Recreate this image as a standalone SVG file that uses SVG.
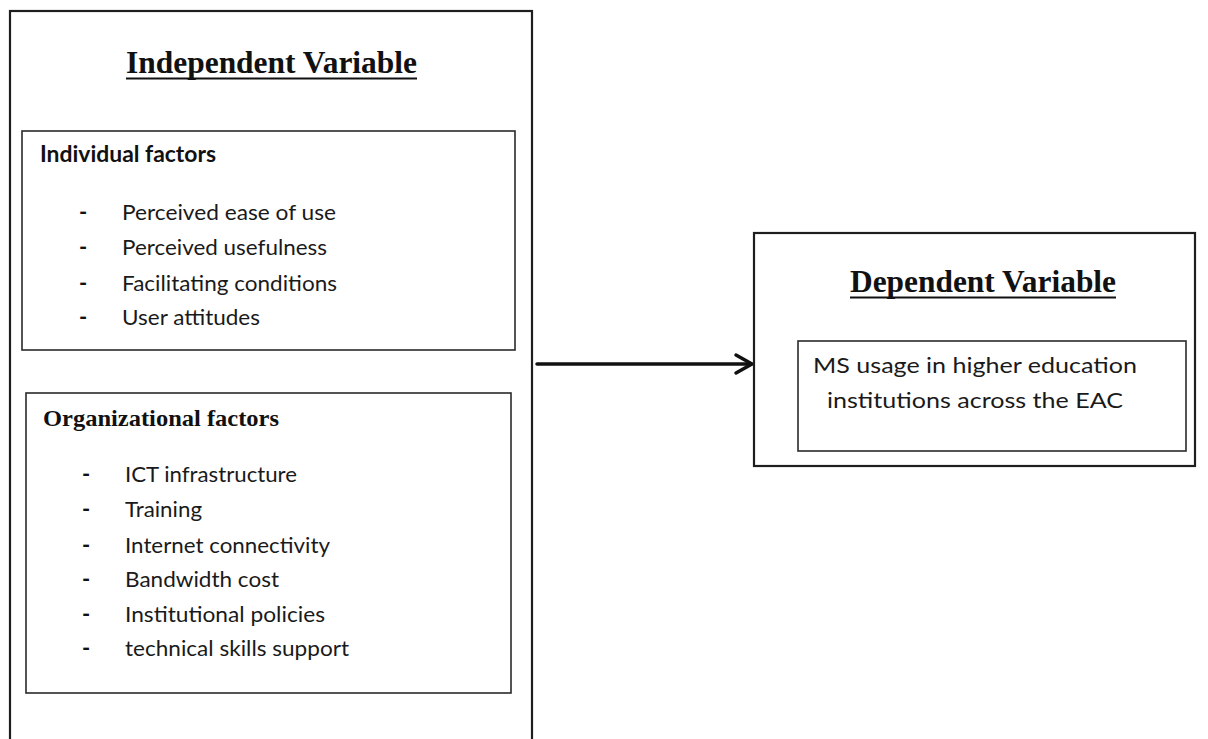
<svg xmlns="http://www.w3.org/2000/svg" width="1208" height="739" viewBox="0 0 1208 739">
<style>
.box{fill:#ffffff;stroke:#1e1e1e;stroke-width:2.2}
.ibox{fill:#ffffff;stroke:#2a2a2a;stroke-width:1.6}
.ttl{font-family:"Liberation Serif","Times New Roman",serif;font-weight:bold;fill:#111}
.hd{font-family:Lato,"Noto Sans",sans-serif;font-weight:bold;font-size:22px;fill:#111}
.it{font-family:Lato,"Noto Sans",sans-serif;font-size:22px;fill:#1a1a1a}
.dash{font-family:Lato,"Noto Sans",sans-serif;font-weight:bold;font-size:22px;fill:#111}
.ul{stroke:#111;stroke-width:2}
.con{stroke:#111;stroke-width:3.5;fill:none;stroke-linecap:round;stroke-linejoin:round}
</style>
<rect width="1208" height="739" fill="#ffffff"/>
<g id="independent">
<rect class="box" x="10" y="11" width="522" height="740"/>
<text class="ttl" x="126" y="73" font-size="31" textLength="291" lengthAdjust="spacingAndGlyphs">Independent Variable</text>
<line class="ul" x1="126" y1="78.5" x2="417" y2="78.5"/>
</g>
<g id="individual">
<rect class="ibox" x="22" y="131" width="493" height="219"/>
<text class="hd" x="40" y="162" textLength="176" lengthAdjust="spacingAndGlyphs">Individual factors</text>
<g class="dash" text-anchor="middle">
<text x="83" y="220">-</text>
<text x="83" y="255">-</text>
<text x="83" y="291">-</text>
<text x="83" y="325">-</text>
</g>
<text class="it" x="122" y="220" textLength="214" lengthAdjust="spacingAndGlyphs">Perceived ease of use</text>
<text class="it" x="122" y="255" textLength="205" lengthAdjust="spacingAndGlyphs">Perceived usefulness</text>
<text class="it" x="122" y="291" textLength="215" lengthAdjust="spacingAndGlyphs">Facilitating conditions</text>
<text class="it" x="122" y="325" textLength="138" lengthAdjust="spacingAndGlyphs">User attitudes</text>
</g>
<g id="organizational">
<rect class="ibox" x="26" y="393" width="485" height="300"/>
<text class="ttl" x="43" y="426" font-size="24" textLength="236" lengthAdjust="spacingAndGlyphs">Organizational  factors</text>
<g class="dash" text-anchor="middle">
<text x="86" y="482">-</text>
<text x="86" y="517">-</text>
<text x="86" y="553">-</text>
<text x="86" y="587">-</text>
<text x="86" y="622">-</text>
<text x="86" y="656">-</text>
</g>
<text class="it" x="125" y="482" textLength="172" lengthAdjust="spacingAndGlyphs">ICT infrastructure</text>
<text class="it" x="125" y="517" textLength="77" lengthAdjust="spacingAndGlyphs">Training</text>
<text class="it" x="125" y="553" textLength="205" lengthAdjust="spacingAndGlyphs">Internet connectivity</text>
<text class="it" x="125" y="587" textLength="154" lengthAdjust="spacingAndGlyphs">Bandwidth cost</text>
<text class="it" x="125" y="622" textLength="200" lengthAdjust="spacingAndGlyphs">Institutional policies</text>
<text class="it" x="125" y="656" textLength="224" lengthAdjust="spacingAndGlyphs">technical skills support</text>
</g>
<g id="connectors">
<line class="con" x1="537" y1="364" x2="751" y2="364"/>
<polyline class="con" points="736,355 752,364 736,373"/>
</g>
<g id="dependent">
<rect class="box" x="754" y="233" width="441" height="233"/>
<text class="ttl" x="850" y="292" font-size="31" textLength="266" lengthAdjust="spacingAndGlyphs">Dependent Variable</text>
<line class="ul" x1="850" y1="297.5" x2="1116" y2="297.5"/>
</g>
<g id="usage">
<rect class="ibox" x="798" y="341" width="388" height="110"/>
<text class="it" x="975" y="373" text-anchor="middle" font-size="24" textLength="324" lengthAdjust="spacingAndGlyphs">MS usage in higher education</text>
<text class="it" x="975" y="408" text-anchor="middle" font-size="24" textLength="296" lengthAdjust="spacingAndGlyphs">institutions across the EAC</text>
</g>
</svg>
